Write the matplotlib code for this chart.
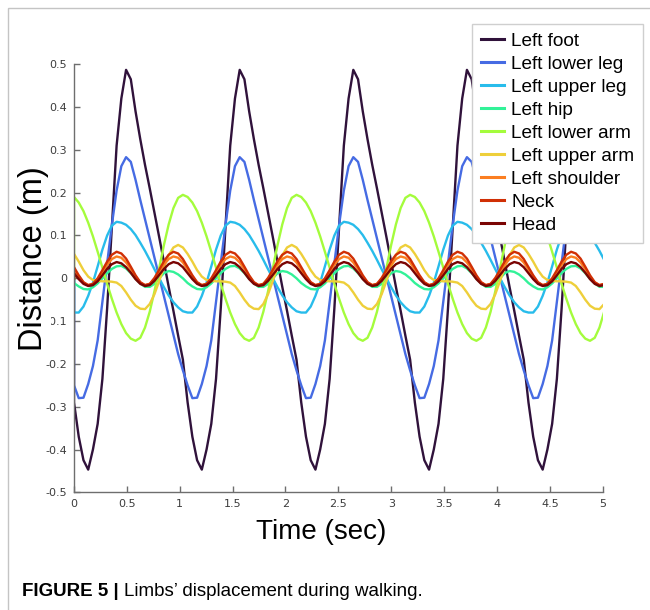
import numpy as np
import matplotlib
matplotlib.use("Agg")
import matplotlib.pyplot as plt
from matplotlib.patches import Rectangle

# ---- gait data: one stride sampled at 24 equal steps, repeated over 5 s ----
stride_period = 1.0745          # seconds per stride
samples_per_stride = 24
duration = 5.0
start_position = 0.0            # every trace starts from rest at t = 0

limbs = ["Left foot", "Left lower leg", "Left upper leg", "Left hip",
         "Left lower arm", "Left upper arm", "Left shoulder", "Neck", "Head"]

left_foot = [-0.29, -0.37, -0.425, -0.447, -0.40, -0.34, -0.235, -0.07,
             0.12, 0.31, 0.42, 0.487, 0.465, 0.39, 0.325, 0.265,
             0.21, 0.153, 0.096, 0.038, -0.02, -0.076, -0.134, -0.19]
left_lower_leg = [-0.25, -0.28, -0.279, -0.247, -0.205, -0.145, -0.055, 0.035,
                  0.125, 0.205, 0.262, 0.283, 0.272, 0.23, 0.183, 0.138,
                  0.093, 0.048, 0.003, -0.042, -0.087, -0.132, -0.177, -0.215]
left_upper_leg = [-0.080, -0.080, -0.066, -0.041, -0.010, 0.028, 0.067, 0.100,
                  0.123, 0.132, 0.130, 0.125, 0.115, 0.101, 0.083, 0.064,
                  0.043, 0.021, 0.000, -0.021, -0.040, -0.056, -0.068, -0.077]
left_hip = [-0.011, -0.019, -0.025, -0.026, -0.021, -0.012, 0.000, 0.012,
            0.022, 0.028, 0.029, 0.023, 0.012, -0.001, -0.012, -0.020,
            -0.020, -0.013, 0.000, 0.012, 0.017, 0.015, 0.009, 0.000]
left_lower_arm = [0.190, 0.177, 0.157, 0.130, 0.098, 0.062, 0.025, -0.013,
                  -0.048, -0.080, -0.107, -0.128, -0.141, -0.146, -0.139, -0.115,
                  -0.078, -0.030, 0.024, 0.078, 0.126, 0.164, 0.188, 0.195]
left_upper_arm = [0.057, 0.039, 0.019, 0.004, -0.004, -0.006, -0.007, -0.007,
                  -0.008, -0.010, -0.018, -0.033, -0.050, -0.064, -0.071, -0.072,
                  -0.060, -0.037, -0.006, 0.026, 0.054, 0.072, 0.078, 0.072]
left_shoulder = [0.020, 0.004, -0.010, -0.016, -0.013, -0.002, 0.014, 0.031,
                 0.045, 0.051, 0.048, 0.037, 0.021, 0.004, -0.010, -0.016,
                 -0.013, -0.002, 0.015, 0.032, 0.045, 0.051, 0.048, 0.037]
neck = [0.026, 0.007, -0.009, -0.016, -0.013, 0.000, 0.019, 0.039,
        0.055, 0.062, 0.058, 0.046, 0.027, 0.007, -0.009, -0.016,
        -0.013, 0.001, 0.020, 0.040, 0.055, 0.062, 0.058, 0.045]
head = [0.012, -0.002, -0.013, -0.018, -0.016, -0.007, 0.007, 0.022,
        0.033, 0.038, 0.035, 0.026, 0.013, -0.002, -0.013, -0.018,
        -0.016, -0.006, 0.008, 0.022, 0.033, 0.038, 0.035, 0.026]

series = [left_foot, left_lower_leg, left_upper_leg, left_hip, left_lower_arm,
          left_upper_arm, left_shoulder, neck, head]

x_ticks = [0, 0.5, 1, 1.5, 2, 2.5, 3, 3.5, 4, 4.5, 5]
x_tick_labels = ["0", "0.5", "1", "1.5", "2", "2.5", "3", "3.5", "4", "4.5", "5"]
y_ticks = [-0.5, -0.4, -0.3, -0.2, -0.1, 0, 0.1, 0.2, 0.3, 0.4, 0.5]
y_tick_labels = ["-0.5", "-0.4", "-0.3", "-0.2", "-0.1", "0",
                 "0.1", "0.2", "0.3", "0.4", "0.5"]

# ---- figure ----
W, H = 650, 610
fig = plt.figure(figsize=(W / 100, H / 100), dpi=100)
fig.patch.set_facecolor("white")

# light frame around the panel (left and top edges visible)
fig.add_artist(Rectangle((8 / W, -0.2), 1.2, 1.2 - 8 / H, transform=fig.transFigure,
                         fill=False, edgecolor="#c4c4c4", linewidth=1.0))

ax = fig.add_axes([74 / W, (H - 492.3) / H, 528.7 / W, 428.0 / H])

colors = plt.cm.turbo(np.linspace(0, 1, len(limbs)))
dt = stride_period / samples_per_stride
n_samples = int(np.ceil(duration / dt)) + 1
n_strides = int(np.ceil(n_samples / samples_per_stride))
t = np.arange(n_samples) * dt

handles = []
for name, vals, c in zip(limbs, series, colors):
    y = np.tile(vals, n_strides)[:n_samples]
    tt = np.concatenate([[0.0], t])
    yy = np.concatenate([[start_position], y])
    h, = ax.plot(tt, yy, color=c, lw=1.7, label=name, solid_joinstyle="round")
    handles.append(h)

ax.set_xlim(0, 5)
ax.set_ylim(-0.5, 0.5)
ax.set_xticks(x_ticks)
ax.set_xticklabels(x_tick_labels)
ax.set_yticks(y_ticks)
ax.set_yticklabels(y_tick_labels)

for side in ("top", "right"):
    ax.spines[side].set_visible(False)
for side in ("left", "bottom"):
    ax.spines[side].set_color("#6e6e6e")
    ax.spines[side].set_linewidth(1.0)
ax.tick_params(direction="in", length=4, width=1.0, color="#6e6e6e",
               labelsize=8, labelcolor="#3c3c3c", pad=5)
for lab in ax.get_xticklabels() + ax.get_yticklabels():
    lab.set_family("DejaVu Sans")

# axis titles
ax.text(0.467, -0.0925, "Time (sec)", transform=ax.transAxes, ha="center", va="center",
        fontsize=20, family="Liberation Sans", color="black")
ax.text(-0.0757, 0.547, "Distance (m)", transform=ax.transAxes, ha="center", va="center",
        rotation=90, fontsize=23.5, family="Liberation Sans", color="black",
        bbox=dict(facecolor="white", edgecolor="none", pad=1.0))

leg = fig.legend(handles, limbs, loc="upper right",
                 bbox_to_anchor=(643 / W, 1 - 24 / H), bbox_transform=fig.transFigure,
                 borderaxespad=0, frameon=True, fancybox=False, framealpha=1,
                 edgecolor="#cfcfcf", prop={"family": "Liberation Sans", "size": 13.7},
                 handlelength=1.2, handletextpad=0.4, labelspacing=0.3, borderpad=0.45)
leg.get_frame().set_linewidth(1.0)
for lh in leg.get_lines():
    lh.set_linewidth(2.2)

# caption
renderer = fig.canvas.get_renderer()
cap_y = 1 - 592 / H
bold = fig.text(22 / W, cap_y, "FIGURE 5 | ", fontsize=13.5, weight="bold",
                family="Liberation Sans", va="center", ha="left")
bb = bold.get_window_extent(renderer=renderer)
fig.text(bb.x1 / W, cap_y, "Limbs\u2019 displacement during walking.", fontsize=13.5,
         family="Liberation Sans", va="center", ha="left")

fig.savefig("out.png", dpi=100, facecolor="white")
